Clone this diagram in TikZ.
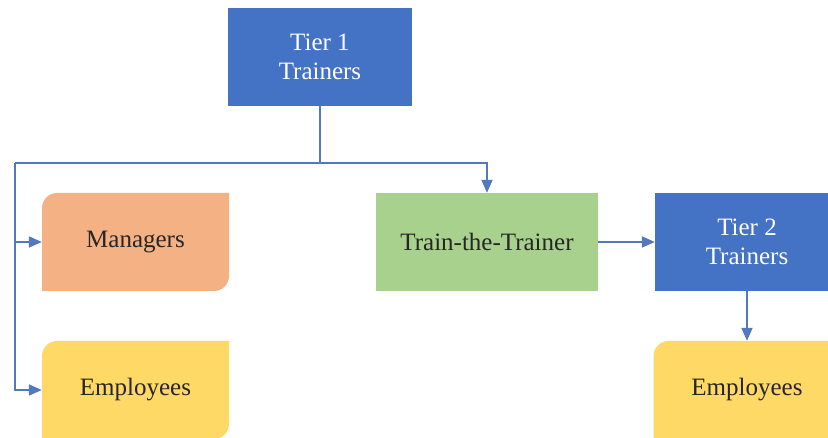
\documentclass[tikz,border=0pt]{standalone}
\usepackage{fontspec}
\setmainfont{Liberation Serif}
\newfontfamily\boxfont{Liberation Serif}
\usetikzlibrary{arrows.meta}

\definecolor{tierblue}{RGB}{68,114,196}
\definecolor{linkblue}{RGB}{84,120,190}
\definecolor{mgrorange}{RGB}{244,177,131}
\definecolor{empyellow}{RGB}{255,217,102}
\definecolor{tttgreen}{RGB}{169,209,142}

\tikzstyle{tier}=[fill=tierblue, text=white, align=center]
\tikzstyle{plain}=[text=black!85]
\tikzstyle{roundbox}=[plain, path picture={
	\fill[#1] (path picture bounding box.south west)
		-- ([yshift=-15pt]path picture bounding box.north west)
		arc[start angle=180, end angle=90, radius=15pt]
		-- (path picture bounding box.north east)
		-- ([yshift=15pt]path picture bounding box.south east)
		arc[start angle=0, end angle=-90, radius=15pt] -- cycle;}]
\tikzstyle{link}=[draw=linkblue, line width=1.8pt]
\tikzstyle{edge}=[link, -{Triangle[length=13pt, width=11pt]}]

\begin{document}
\begin{tikzpicture}[x=1pt, y=1pt, font=\boxfont\fontsize{25}{29}\selectfont]
	\useasboundingbox (0,0) rectangle (828,438);
	\clip (0,0) rectangle (828,438);
	\foreach \pos/\name/\txt in {{(320,381)/TierOne/Tier 1\\Trainers}, {(747,196)/TierTwo/Tier 2\\Trainers}}
		\node[tier, minimum width=184, minimum height=98] (\name) at \pos {\txt};
	\node[plain, fill=tttgreen, minimum width=222, minimum height=98] (Train) at (487,196) {Train-the-Trainer};
	\node[roundbox=mgrorange, minimum width=187, minimum height=98] (Managers) at (135.5,196) {Managers};
	\foreach \pos/\name in {{(135.5,48)/EmployeesA}, {(747,48)/EmployeesB}}
		\node[roundbox=empyellow, minimum width=187, minimum height=98] (\name) at \pos {Employees};
	\coordinate (Split) at (320,275);
	\coordinate (Bus) at (15,275);
	\path[link] (TierOne.south) -- (Split) -- (Bus);
	\path[edge] (Split) -| (Train.north);
	\path[edge] (Bus) |- (Managers.west);
	\path[edge] (Bus) |- (EmployeesA.west);
	\path[edge] (Train.east) -- (TierTwo.west);
	\path[edge] (TierTwo.south) -- (EmployeesB.north);
\end{tikzpicture}
\end{document}
